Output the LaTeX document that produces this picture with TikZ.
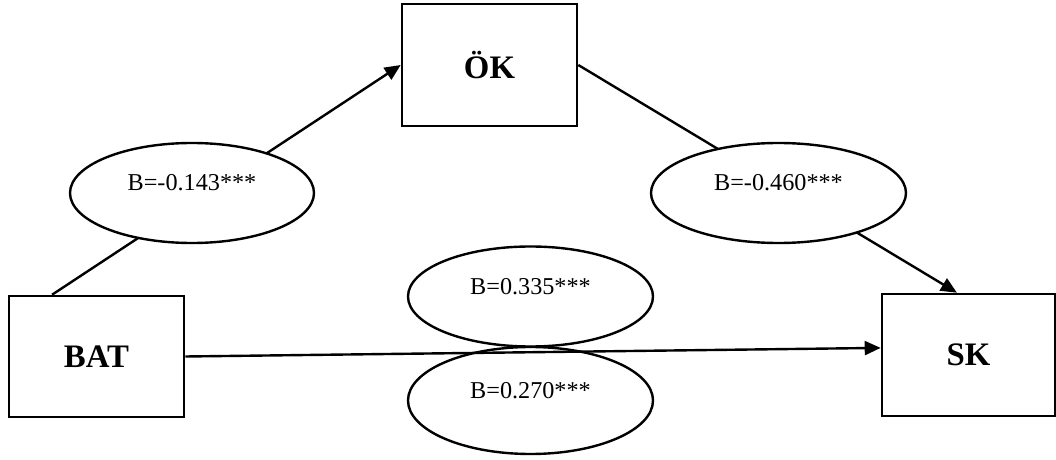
\documentclass[tikz,border=0pt]{standalone}
\usepackage{fontspec}
\setmainfont{Liberation Serif}
\usetikzlibrary{shapes.geometric,arrows.meta,calc,backgrounds}
\tikzset{
  varbox/.style={draw, line width=1.3pt, fill=white, inner sep=0pt, minimum width=87.5pt, minimum height=61pt, font=\fontsize{16.4}{19}\selectfont\bfseries},
  coefell/.style={draw, ellipse, line width=1.2pt, fill=white, inner sep=0pt, font=\fontsize{12.1}{14}\selectfont},
  conn/.style={line width=1.2pt},
  arr/.style={conn, -{Triangle[length=8pt,width=7pt]}}
}
\newcommand{\elltext}[1]{\smash{\raisebox{1.2pt}{#1}}}
\begin{document}
\begin{tikzpicture}[x=0.5pt,y=-0.5pt]
\useasboundingbox (0,0) rectangle (1056,460);
\node[varbox] (OK) at (489.5,65) {ÖK};
\node[varbox, minimum height=60.5pt] (BAT) at (96.5,356.5) {BAT};
\node[varbox, minimum width=86.5pt] (SK) at (968.5,355) {SK};
\node[coefell, minimum width=122pt, minimum height=50pt] (E1) at (192,193) {\elltext{B=-0.143***}};
\node[coefell, minimum width=127.5pt, minimum height=50pt] (E2) at (778.5,193) {\elltext{B=-0.460***}};
\node[coefell, minimum width=122.5pt, minimum height=50pt] (E3) at (530.5,296.5) {\elltext{B=0.335***}};
\node[coefell, minimum width=122.5pt, minimum height=53.5pt] (E4) at (530.5,400.5) {\elltext{B=0.270***}};
\begin{pgfonlayer}{background}
\draw[arr] ($(BAT.north west)!0.25!(BAT.north east)$) -- (OK.west);
\draw[arr] (OK.east) -- ($(SK.north west)!0.434!(SK.north east)$);
\end{pgfonlayer}
\draw[arr] (BAT.east) -- ($(SK.north west)!0.443!(SK.south west)$);
\end{tikzpicture}
\end{document}
